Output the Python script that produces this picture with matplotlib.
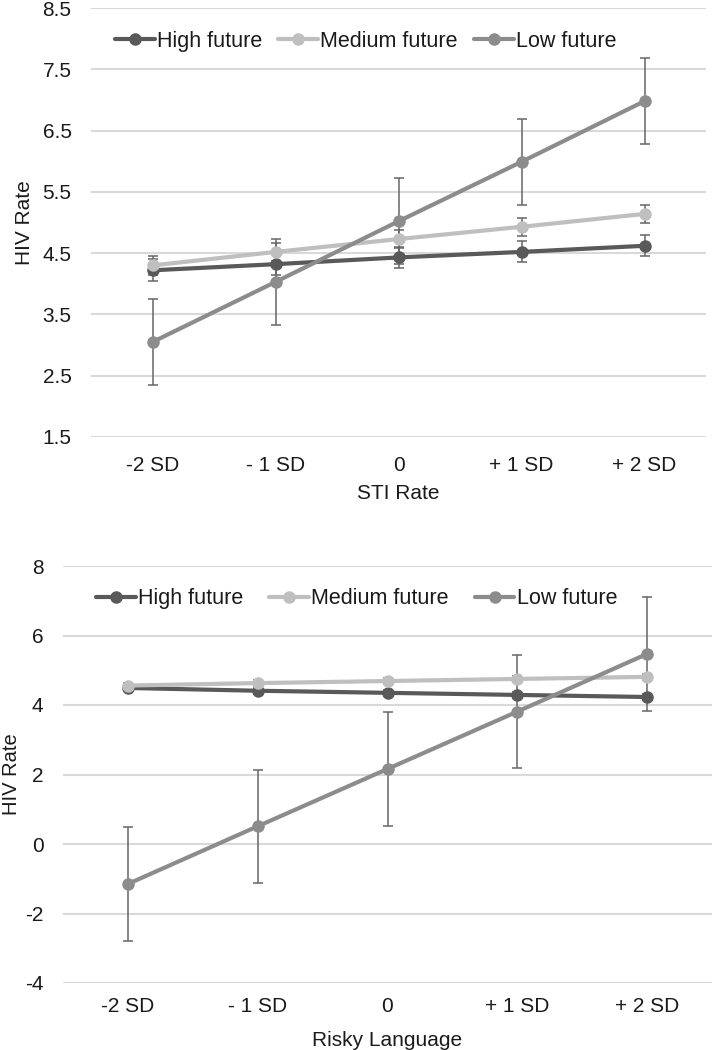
import matplotlib
matplotlib.use("Agg")
import matplotlib.pyplot as plt

plt.rcParams['font.family'] = ['Liberation Sans', 'DejaVu Sans']

categories = ["-2 SD", "- 1 SD", "0", "+ 1 SD", "+ 2 SD"]
series_names = ["High future", "Medium future", "Low future"]

# Panel 1: STI Rate
sti_high = [4.22, 4.32, 4.43, 4.52, 4.62]
sti_high_err = [0.18, 0.18, 0.17, 0.17, 0.17]
sti_medium = [4.30, 4.52, 4.73, 4.93, 5.14]
sti_medium_err = [0.15, 0.15, 0.15, 0.15, 0.15]
sti_low = [3.05, 4.03, 5.02, 5.99, 6.98]
sti_low_err = [0.70, 0.70, 0.70, 0.70, 0.70]

# Panel 2: Risky Language
rl_high = [4.49, 4.41, 4.35, 4.29, 4.23]
rl_high_err = [0.08, 0.08, 0.08, 0.08, 0.08]
rl_medium = [4.56, 4.63, 4.69, 4.75, 4.81]
rl_medium_err = [0.08, 0.08, 0.08, 0.08, 0.08]
rl_low = [-1.15, 0.51, 2.16, 3.81, 5.47]
rl_low_err = [1.63, 1.63, 1.63, 1.63, 1.63]

colors = ["#595959", "#BFBFBF", "#8C8C8C"]
err_color = "#666666"

fig = plt.figure(figsize=(7.12, 10.5), dpi=100)
ax1 = fig.add_axes([91 / 712, 1 - 437 / 1050, (706 - 91) / 712, (437 - 8) / 1050])
ax2 = fig.add_axes([63 / 712, 1 - 983 / 1050, (712 - 63) / 712, (983 - 566) / 1050])


def draw(ax, data, errs, ylim, yticks, ylabel_text, xlabel_text, fmt,
         legend_anchor, colspace, ylabel_x, ylabel_size, xpad, xlabelpad):
    x = list(range(len(categories)))
    for vals, err in zip(data, errs):
        ax.errorbar(x, vals, yerr=err, fmt='none', ecolor=err_color,
                    elinewidth=1.1, capsize=3.3, capthick=1.1, zorder=2.5)
    for vals, c, name in zip(data, colors, series_names):
        ax.plot(x, vals, color=c, lw=3.0, marker='o', ms=8, label=name,
                zorder=3, solid_capstyle='round')
    ax.set_xlim(-0.5, len(categories) - 0.5)
    ax.set_ylim(*ylim)
    ax.set_yticks(yticks)
    ax.set_yticklabels([fmt.format(t) for t in yticks])
    ax.set_xticks(x)
    ax.set_xticklabels(categories)
    ax.tick_params(axis='both', length=0, labelsize=15, colors='#1a1a1a')
    ax.tick_params(axis='y', pad=14)
    ax.tick_params(axis='x', pad=xpad)
    for s in ax.spines.values():
        s.set_visible(False)
    ax.grid(axis='y', color='#D9D9D9', lw=1.5, zorder=0)
    ax.set_axisbelow(True)
    ax.set_ylabel(ylabel_text, fontsize=ylabel_size, color='#1a1a1a')
    ax.yaxis.set_label_coords(ylabel_x, 0.5)
    ax.set_xlabel(xlabel_text, fontsize=15, color='#1a1a1a', labelpad=xlabelpad)
    leg = ax.legend(loc='center left', bbox_to_anchor=legend_anchor, ncol=3, frameon=False,
                    fontsize=15.5, handlelength=1.85, handletextpad=0.1,
                    columnspacing=colspace, borderaxespad=0)
    for t in leg.get_texts():
        t.set_color('#1a1a1a')


draw(ax1, [sti_high, sti_medium, sti_low],
     [sti_high_err, sti_medium_err, sti_low_err],
     (1.5, 8.5), [1.5, 2.5, 3.5, 4.5, 5.5, 6.5, 7.5, 8.5],
     "HIV Rate", "STI Rate", "{:.1f}", (0.025, 0.923), 0.75, -0.093, 15, 14, 6)

draw(ax2, [rl_high, rl_medium, rl_low],
     [rl_high_err, rl_medium_err, rl_low_err],
     (-4, 8), [-4, -2, 0, 2, 4, 6, 8],
     "HIV Rate", "Risky Language", "{:.0f}", (0.038, 0.921), 1.2, -0.065, 14.5, 10, 11)

fig.savefig("out.png", dpi=100)
